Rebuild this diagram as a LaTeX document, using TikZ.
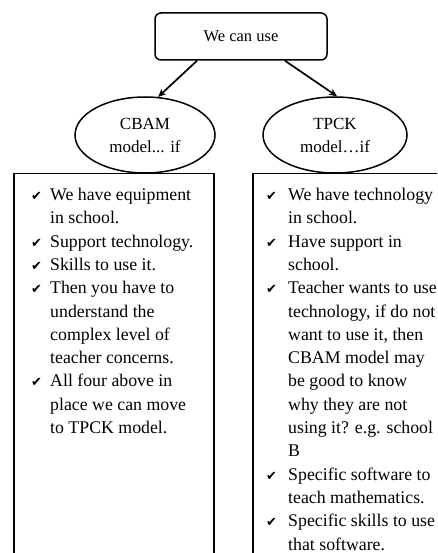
\documentclass[tikz,border=0pt]{standalone}
\usepackage{fontspec}
\setmainfont{Liberation Serif}
\newfontfamily\ckfont{DejaVu Sans}
\usetikzlibrary{shapes.geometric,arrows.meta}
\newcommand{\ck}{{\ckfont\fontsize{13}{13}\selectfont ✔}}
\begin{document}
\begin{tikzpicture}[x=1pt,y=-1pt,
  topbox/.style={draw, rounded corners=6pt, line width=1.5pt, minimum width=172pt, minimum height=47pt, inner sep=0pt, font=\fontsize{16.5}{20}\selectfont},
  oval/.style={draw, ellipse, line width=1.5pt, minimum width=140pt, minimum height=76pt, inner sep=0pt, align=center, font=\fontsize{17}{23}\selectfont},
  listbox/.style={draw, line width=1.5pt, anchor=north west, inner sep=0pt, minimum width=200pt, minimum height=420pt},
  listtext/.style={anchor=north west, inner sep=0pt, font=\fontsize{17.8}{23.3}\selectfont},
  link/.style={-{Stealth[length=8pt,width=7pt]}, line width=1.7pt}
]
\useasboundingbox (0,0) rectangle (437,553);
\clip (0,0) rectangle (437,553);
\node[topbox] (top) at (241,36.5) {We can use};
\node[oval] (cbam) at (145,135) {CBAM\\model... if};
\node[oval, minimum width=144pt] (tpck) at (335,135) {TPCK\\model\ldots if};
\node[listbox] (lbox) at (13,173) {};
\node[listbox, minimum width=220pt] (rbox) at (252,173) {};
\draw[link] ([xshift=-44pt]top.south) -- (cbam.71);
\draw[link] ([xshift=44pt]top.south) -- (tpck.87);
\node[listtext] (ltext) at (31,184) {\begin{tabular}{@{}p{19pt}@{}l@{}}
\ck & We have equipment\\
 & in school.\\
\ck & Support technology.\\
\ck & Skills to use it.\\
\ck & Then you have to\\
 & understand the\\
 & complex level of\\
 & teacher concerns.\\
\ck & All four above in\\
 & place we can move\\
 & to TPCK model.
\end{tabular}};
\node[listtext] (rtext) at (266,184) {\begin{tabular}{@{}p{22pt}@{}l@{}}
\ck & We have technology\\
 & in school.\\
\ck & Have support in\\
 & school.\\
\ck & Teacher wants to use\\
 & technology, if do not\\
 & want to use it, then\\
 & CBAM model may\\
 & be good to know\\
 & why they are not\\
 & using it? e.g. school\\
 & B\\
\ck & Specific software to\\
 & teach mathematics.\\
\ck & Specific skills to use\\
 & that software.
\end{tabular}};
\end{tikzpicture}
\end{document}
